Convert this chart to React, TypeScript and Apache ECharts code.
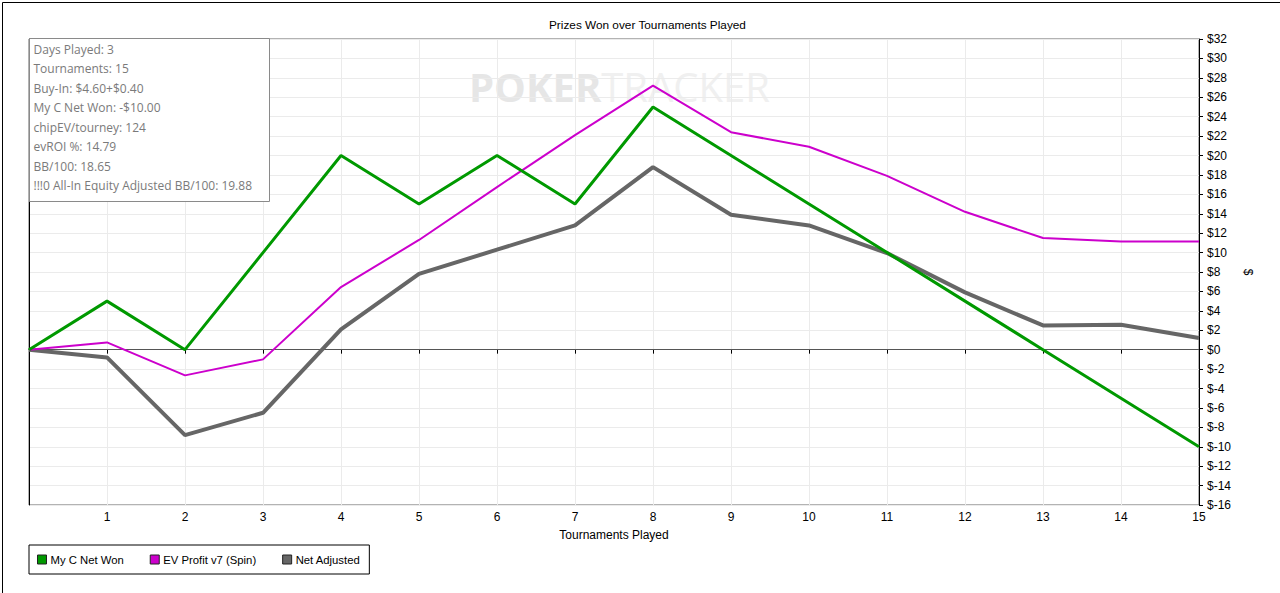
import React, { useEffect, useRef } from "react";
import * as echarts from "echarts";

const tournaments = [0, 1, 2, 3, 4, 5, 6, 7, 8, 9, 10, 11, 12, 13, 14, 15];
const netWon = [0, 5, 0, 10, 20, 15, 20, 15, 25, 20, 15, 10, 5, 0, -5, -10];
const evProfit = [0, 0.75, -2.65, -1.0, 6.45, 11.3, 16.75, 22.1, 27.2, 22.4, 20.9, 17.9, 14.2, 11.5, 11.15, 11.15];
const netAdjusted = [0, -0.8, -8.8, -6.5, 2.1, 7.8, 10.3, 12.8, 18.8, 13.9, 12.8, 9.95, 5.9, 2.5, 2.57, 1.2];
const seriesNames = ["My C Net Won", "EV Profit v7 (Spin)", "Net Adjusted"];
const infoLines = [
  "Days Played: 3",
  "Tournaments: 15",
  "Buy-In: $4.60+$0.40",
  "My C Net Won: -$10.00",
  "chipEV/tourney: 124",
  "evROI %: 14.79",
  "BB/100: 18.65",
  "!!!0 All-In Equity Adjusted BB/100: 19.88",
];

const FONT = "Liberation Sans, Arial, sans-serif";

export default function App() {
  const ref = useRef<HTMLDivElement>(null);
  useEffect(() => {
    if (!ref.current) return;
    const chart = echarts.init(ref.current, undefined, { renderer: "svg" });
    const pairs = (ys: number[]) => tournaments.map((x, i) => [x, ys[i]]);
    chart.setOption({
      animation: false,
      backgroundColor: "#ffffff",
      textStyle: { fontFamily: FONT },
      title: {
        text: "Prizes Won over Tournaments Played",
        left: 544,
        top: 14,
        textStyle: { fontSize: 11.8, fontWeight: "normal", color: "#000", fontFamily: FONT },
      },
      grid: {
        left: 29,
        right: 81,
        top: 39,
        bottom: 88,
        show: true,
        borderColor: "#666",
        borderWidth: 1,
        outerBoundsMode: "none",
      },
      legend: {
        left: 29,
        top: 545,
        orient: "horizontal",
        icon: "rect",
        itemWidth: 9,
        itemHeight: 9,
        itemGap: 26,
        padding: [9, 9, 9, 8],
        borderColor: "#000",
        borderWidth: 1,
        itemStyle: { borderColor: "#222", borderWidth: 1 },
        textStyle: { fontSize: 11.3, color: "#000", fontFamily: FONT, padding: [0, 0, 0, -1] },
        data: seriesNames,
      },
      xAxis: {
        type: "value",
        min: 0,
        max: 15,
        interval: 1,
        name: "Tournaments Played",
        nameLocation: "middle",
        nameGap: 24,
        nameTextStyle: { fontSize: 12, color: "#000", fontFamily: FONT },
        axisLine: { show: true, lineStyle: { color: "#000", width: 1 } },
        axisTick: { show: true, length: 4, lineStyle: { color: "#000" } },
        axisLabel: {
          fontSize: 12,
          color: "#000",
          margin: 6,
          fontFamily: FONT,
          formatter: (v: number) => (v === 0 ? "" : String(v)),
        },
        splitLine: { show: true, lineStyle: { color: "#ebebeb", width: 1 } },
      },
      yAxis: [
        {
          type: "value",
          position: "right",
          min: -16,
          max: 32,
          interval: 2,
          name: "$",
          nameLocation: "middle",
          nameGap: 40,
          nameRotate: -90,
          nameTextStyle: { fontSize: 12, color: "#000", fontFamily: FONT },
          axisLine: { show: true, onZero: false, lineStyle: { color: "#000", width: 1 } },
          axisTick: { show: true, inside: false, length: 4, lineStyle: { color: "#000" } },
          axisLabel: {
            fontSize: 12,
            color: "#000",
            margin: 8,
            fontFamily: FONT,
            formatter: (v: number) => "$" + v,
          },
          splitLine: { show: true, lineStyle: { color: "#ebebeb", width: 1 } },
        },
        {
          type: "value",
          position: "left",
          min: -16,
          max: 32,
          interval: 2,
          axisLine: { show: true, onZero: false, lineStyle: { color: "#000", width: 1 } },
          axisTick: { show: false },
          axisLabel: { show: false },
          splitLine: { show: false },
        },
      ],
      graphic: [
        {
          type: "text",
          left: 469,
          top: 66,
          z: 0,
          silent: true,
          style: {
            text: "{a|POKER}{b|TRACKER}",
            rich: {
              a: { fontSize: 40, fontWeight: "bold", fill: "#e6e6e6", fontFamily: "Open Sans, sans-serif" },
              b: { fontSize: 40, fontWeight: "normal", fill: "#f0f0f0", fontFamily: "Open Sans, sans-serif" },
            },
          },
        },
        {
          type: "group",
          left: 29,
          top: 38,
          z: 100,
          children: [
            {
              type: "rect",
              shape: { x: 0, y: 0, width: 240, height: 163 },
              style: { fill: "#fff", stroke: "#8a8a8a", lineWidth: 1 },
              z: 100,
            },
            ...infoLines.map((t, i) => ({
              type: "text",
              x: 4,
              y: 11 + i * 19.45,
              z: 101,
              style: {
                text: t,
                fill: "#7a7a7a",
                fontSize: 12,
                fontFamily: "Open Sans, Noto Sans, sans-serif",
                verticalAlign: "middle",
              },
            })),
          ],
        },
        {
          type: "rect",
          left: 0,
          top: 0,
          shape: { x: 0, y: 0, width: 1279, height: 592 },
          style: { fill: "none", stroke: "#000", lineWidth: 1 },
          silent: true,
          z: 200,
        },
      ],
      series: [
        {
          name: seriesNames[0],
          type: "line",
          data: pairs(netWon),
          color: "#009900",
          showSymbol: false,
          lineStyle: { color: "#009900", width: 3 },
          z: 4,
          markLine: {
            silent: true,
            symbol: "none",
            label: { show: false },
            lineStyle: { color: "#555", width: 1, type: "solid" },
            data: [{ yAxis: 0 }],
            z: 1,
          },
        },
        {
          name: seriesNames[1],
          type: "line",
          data: pairs(evProfit),
          color: "#cc00cc",
          showSymbol: false,
          lineStyle: { color: "#cc00cc", width: 2 },
          z: 3,
        },
        {
          name: seriesNames[2],
          type: "line",
          data: pairs(netAdjusted),
          color: "#666666",
          showSymbol: false,
          lineStyle: { color: "#666666", width: 4 },
          z: 2,
        },
      ],
    });
    return () => chart.dispose();
  }, []);
  return (
    <div
      ref={ref}
      style={{ position: "fixed", left: 0, top: 0, width: 1280, height: 593, background: "#fff" }}
    />
  );
}
